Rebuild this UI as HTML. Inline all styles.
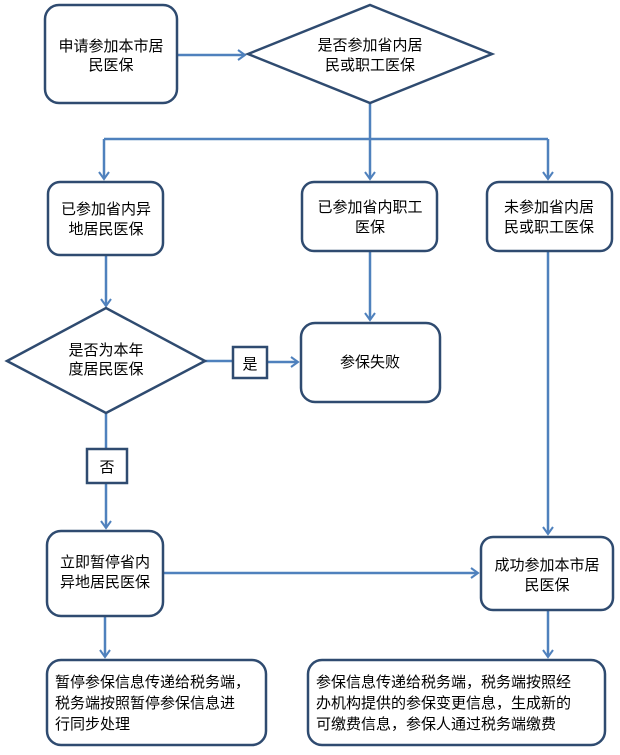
<!DOCTYPE html>
<html><head><meta charset="utf-8"><style>
body{margin:0;background:#fff;}
svg text{font-family:"Liberation Sans","Noto Sans CJK SC","WenQuanYi Zen Hei",sans-serif;font-size:15px;fill:#000;}
</style></head><body>
<svg width="620" height="750" viewBox="0 0 620 750" xmlns="http://www.w3.org/2000/svg">
<defs><marker id="a" markerWidth="12" markerHeight="12" refX="9" refY="6" orient="auto" markerUnits="userSpaceOnUse"><path d="M2,1 L9,6 L2,11" fill="none" stroke="#4f81bd" stroke-width="2"/></marker></defs>
<g fill="none" stroke="#4f81bd" stroke-width="2.5">
<line x1="177" y1="55" x2="245" y2="55" marker-end="url(#a)"/>
<polyline points="370,103 370,139"/>
<polyline points="104,139 548,139" fill="none"/>
<line x1="104" y1="139" x2="104" y2="179" marker-end="url(#a)"/>
<line x1="370" y1="139" x2="370" y2="179" marker-end="url(#a)"/>
<line x1="548" y1="139" x2="548" y2="179" marker-end="url(#a)"/>
<line x1="106" y1="255" x2="106" y2="306" marker-end="url(#a)"/>
<line x1="370" y1="251" x2="370" y2="320" marker-end="url(#a)"/>
<line x1="205" y1="361" x2="233" y2="361"/>
<line x1="267" y1="362" x2="298" y2="362" marker-end="url(#a)"/>
<line x1="106" y1="413" x2="106" y2="449"/>
<line x1="106" y1="483" x2="106" y2="528" marker-end="url(#a)"/>
<line x1="548" y1="251" x2="548" y2="534" marker-end="url(#a)"/>
<line x1="163" y1="573" x2="478" y2="573" marker-end="url(#a)"/>
<line x1="105" y1="616" x2="105" y2="657" marker-end="url(#a)"/>
<line x1="548" y1="610" x2="548" y2="657" marker-end="url(#a)"/>
</g>
<g fill="#fff" stroke="#2f4b70" stroke-width="2.5">
<rect x="45" y="5" width="132" height="98" rx="14"/>
<polygon points="248,54 370,5 492,54 370,103"/>
<rect x="48" y="182" width="115" height="73" rx="12"/>
<rect x="302" y="182" width="135" height="69" rx="12"/>
<rect x="487" y="182" width="125" height="69" rx="12"/>
<polygon points="7,361 106,308 205,361 106,413"/>
<rect x="233" y="347" width="34" height="31"/>
<rect x="301" y="323" width="139" height="79" rx="14"/>
<rect x="87" y="449" width="40" height="34"/>
<rect x="47" y="531" width="116" height="85" rx="14"/>
<rect x="481" y="537" width="132" height="73" rx="12"/>
<rect x="47" y="660" width="219" height="85" rx="14"/>
<rect x="308" y="660" width="297" height="85" rx="14"/>
</g>
<g text-anchor="middle">
<text x="111" y="51">申请参加本市居</text><text x="111" y="70">民医保</text>
<text x="370" y="50">是否参加省内居</text><text x="370" y="70">民或职工医保</text>
<text x="106" y="214">已参加省内异</text><text x="106" y="234">地居民医保</text>
<text x="370" y="212">已参加省内职工</text><text x="370" y="232">医保</text>
<text x="549" y="212">未参加省内居</text><text x="549" y="232">民或职工医保</text>
<text x="106" y="355">是否为本年</text><text x="106" y="374">度居民医保</text>
<text x="250" y="369">是</text>
<text x="370" y="367">参保失败</text>
<text x="107" y="472">否</text>
<text x="105" y="567">立即暂停省内</text><text x="105" y="587">异地居民医保</text>
<text x="547" y="570">成功参加本市居</text><text x="547" y="590">民医保</text>
</g>
<g>
<text x="55" y="687">暂停参保信息传递给税务端，</text>
<text x="55" y="708">税务端按照暂停参保信息进</text>
<text x="55" y="729">行同步处理</text>
<text x="316" y="687">参保信息传递给税务端，税务端按照经</text>
<text x="316" y="708">办机构提供的参保变更信息，生成新的</text>
<text x="316" y="729">可缴费信息，参保人通过税务端缴费</text>
</g>
</svg>
</body></html>
